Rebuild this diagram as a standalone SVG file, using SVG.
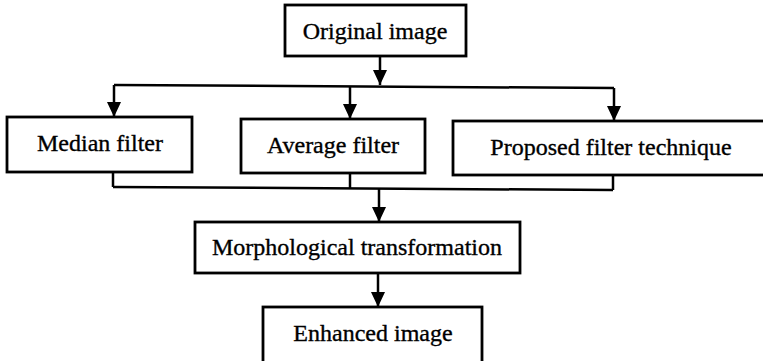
<svg xmlns="http://www.w3.org/2000/svg" width="763" height="361" viewBox="0 0 763 361">
  <style>
    .box { fill: #ffffff; stroke: #000000; stroke-width: 2.8; }
    .lbl { font-family: "Liberation Serif", "Times New Roman", serif; font-size: 24px; fill: #000000; stroke: #000000; stroke-width: 0.35; text-anchor: middle; }
    .ln { fill: none; stroke: #000000; stroke-width: 2.5; }
  </style>
  <defs>
    <marker id="arr" markerUnits="userSpaceOnUse" markerWidth="16" markerHeight="16" refX="15" refY="7" orient="auto">
      <path d="M0,0 L15,7 L0,14 z" fill="#000000"/>
    </marker>
  </defs>
  <rect width="763" height="361" fill="#ffffff"/>
  <g id="connectors">
    <line class="ln" x1="380" y1="56" x2="380" y2="85" marker-end="url(#arr)"/>
    <path class="ln" d="M114,85 L614,88"/>
    <line class="ln" x1="114" y1="85" x2="114" y2="117" marker-end="url(#arr)"/>
    <line class="ln" x1="350" y1="86.5" x2="350" y2="119" marker-end="url(#arr)"/>
    <line class="ln" x1="614" y1="88" x2="614" y2="121" marker-end="url(#arr)"/>
    <line class="ln" x1="113" y1="172" x2="113" y2="187"/>
    <line class="ln" x1="350" y1="173" x2="350" y2="188.5"/>
    <line class="ln" x1="613" y1="175" x2="613" y2="190"/>
    <path class="ln" d="M113,187 L613,190"/>
    <line class="ln" x1="379" y1="188.5" x2="379" y2="222" marker-end="url(#arr)"/>
    <line class="ln" x1="378" y1="273" x2="378" y2="307" marker-end="url(#arr)"/>
  </g>
  <g id="original">
    <rect class="box" x="285" y="5" width="181" height="51"/>
    <text class="lbl" x="375" y="39">Original image</text>
  </g>
  <g id="median">
    <rect class="box" x="7" y="117" width="185" height="55"/>
    <text class="lbl" x="100" y="151">Median filter</text>
  </g>
  <g id="average">
    <rect class="box" x="241" y="119" width="184" height="54"/>
    <text class="lbl" x="333" y="153">Average filter</text>
  </g>
  <g id="proposed">
    <rect class="box" x="453" y="121" width="320" height="54"/>
    <text class="lbl" x="611" y="155">Proposed filter technique</text>
  </g>
  <g id="morph">
    <rect class="box" x="195" y="222" width="325" height="51"/>
    <text class="lbl" x="357" y="255">Morphological transformation</text>
  </g>
  <g id="enhanced">
    <rect class="box" x="263" y="307" width="219" height="62"/>
    <text class="lbl" x="373" y="341">Enhanced image</text>
  </g>
</svg>
